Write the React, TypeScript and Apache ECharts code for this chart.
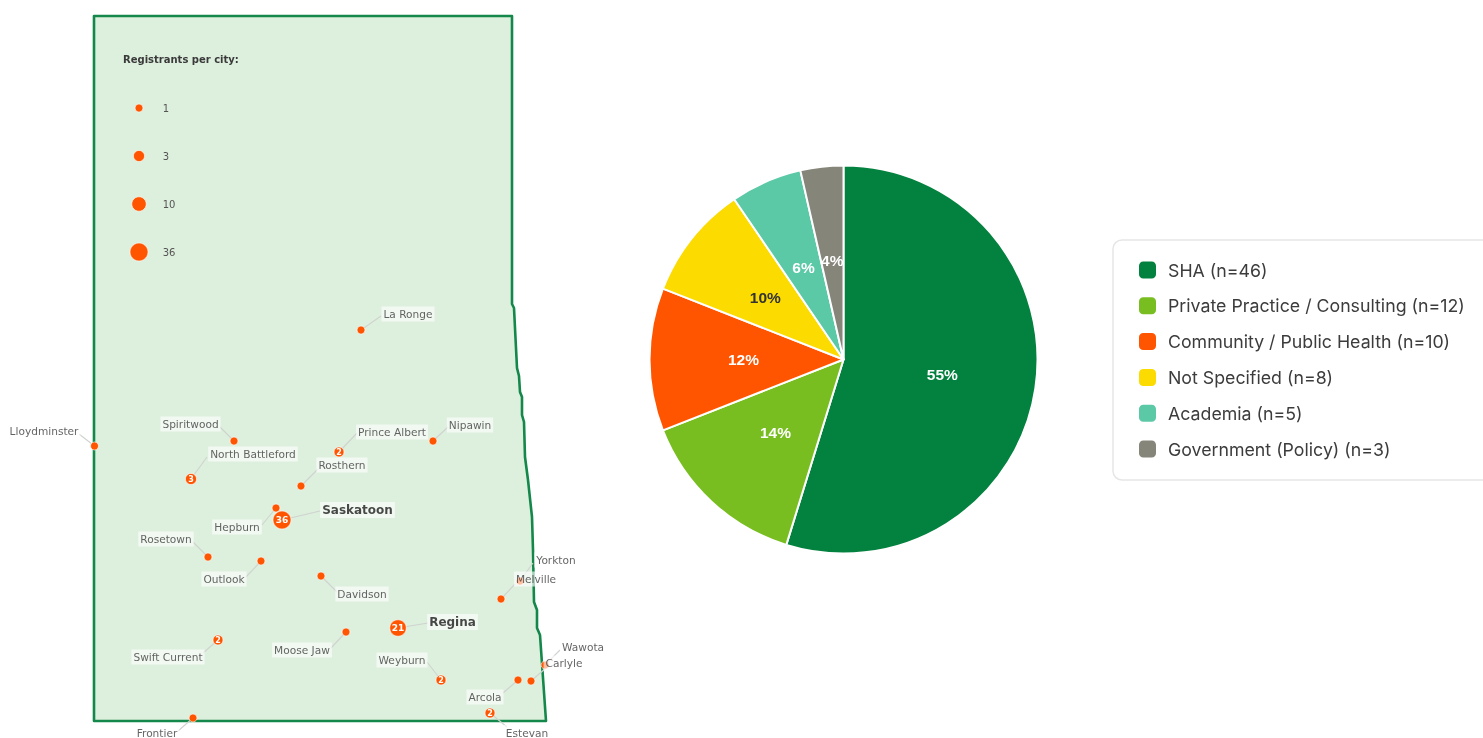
import React, { useEffect, useRef } from "react";
import * as echarts from "echarts";

const borderX = [94, 512, 512, 514, 517, 519, 520, 522, 522, 524, 525, 528, 532, 533, 534, 537, 537, 540, 546, 94];
const borderY = [16, 16, 304, 308, 368, 376, 392, 397, 415, 422, 457, 480, 517, 550, 602, 610, 628, 635, 721, 721];

const cityNames = ["Lloydminster", "Spiritwood", "North Battleford", "Rosthern", "Prince Albert", "Nipawin", "La Ronge", "Hepburn", "Saskatoon", "Rosetown", "Outlook", "Davidson", "Yorkton", "Melville", "Regina", "Moose Jaw", "Swift Current", "Weyburn", "Arcola", "Carlyle", "Wawota", "Estevan", "Frontier"];
const cityX = [94.5, 234, 191, 301, 339, 433, 361, 276, 282, 208, 261, 321, 520, 501, 398, 346, 218, 441, 518, 531, 545, 490, 193];
const cityY = [446, 441, 479, 486, 452, 441, 330, 508, 520, 557, 561, 576, 581, 599, 628, 632, 640, 680, 680, 681, 665, 713, 718];
const cityCounts = [1, 1, 3, 1, 2, 1, 1, 1, 36, 1, 1, 1, 1, 1, 21, 1, 2, 2, 1, 1, 1, 2, 1];
const labelX = [44, 190.5, 253, 342, 392, 470, 408, 237, 357.5, 166, 224, 362, 556, 536, 452.5, 302, 168, 402, 485, 564, 583, 527, 157];
const labelY = [431, 424, 454, 465, 432, 425, 314, 527, 510, 539, 579, 594, 560, 579, 622, 650, 657, 660, 697, 663, 647, 732.5, 732.5];
const leaderX = [79, 220, 207, 318, 357, 448, 381, 262, 320, 193, 246, 337, 533, 515, 428, 331, 203, 427, 503, 546, 560, 507, 178];
const leaderY = [434, 427, 457, 469, 433, 427, 316, 525, 511, 542, 577, 592, 563, 584, 623, 648, 653, 662, 693, 668, 650, 727, 731];

const sizeLegendCounts = [1, 3, 10, 36];
const sizeLegendY = [108, 156, 204, 252];
const sizeLegendX = 139;

const sectors = ["SHA (n=46)", "Private Practice / Consulting (n=12)", "Community / Public Health (n=10)", "Not Specified (n=8)", "Academia (n=5)", "Government (Policy) (n=3)"];
const sectorValues = [46, 12, 10, 8, 5, 3];
const sectorColors = ["#03813E", "#78BE20", "#FF5500", "#FBDB00", "#5BC8A6", "#86857A"];

const dotSize = (c: number) => 8 + 2.8 * Math.log(c);
const MAP_FONT = "DejaVu Sans";
const ORANGE = "#FF5500";
const sectorTotal = sectorValues.reduce((a, b) => a + b, 0);

export default function App() {
  const ref = useRef<HTMLDivElement>(null);
  useEffect(() => {
    const chart = echarts.init(ref.current!, undefined, { renderer: "svg" });
    const indexes = cityNames.map((_, i) => i);
    const option: any = {
      animation: false,
      backgroundColor: "#ffffff",
      title: {
        text: "Registrants per city:",
        left: 123,
        top: 54,
        padding: 0,
        textStyle: { fontFamily: MAP_FONT, fontSize: 10, fontWeight: "bold", color: "#3a3a3a" },
      },
      grid: { left: 0, right: 0, top: 0, bottom: 0 },
      xAxis: { type: "value", min: 0, max: 1483, show: false },
      yAxis: { type: "value", min: 0, max: 738, inverse: true, show: false },
      legend: {
        orient: "vertical",
        left: 1113,
        top: 240,
        padding: [21, 30, 22, 26],
        icon: "roundRect",
        itemWidth: 17,
        itemHeight: 17,
        itemGap: 17.8,
        backgroundColor: "#ffffff",
        borderColor: "#e6e6e6",
        borderWidth: 1.5,
        borderRadius: 9,
        itemStyle: { borderWidth: 0 },
        data: sectors,
        textStyle: { fontFamily: "Inter", fontSize: 17.75, color: "#3c3c3c", padding: [0, 0, 0, 7] },
      },
      series: [
        {
          type: "custom",
          coordinateSystem: "cartesian2d",
          z: 1,
          silent: true,
          clip: false,
          data: [[0, 0]],
          renderItem: (_: any, api: any) => ({
            type: "polygon",
            shape: { points: borderX.map((x, i) => api.coord([x, borderY[i]])) },
            style: { fill: "#DDEFDD", stroke: "#14874A", lineWidth: 2.6, lineJoin: "round" },
          }),
        },
        {
          type: "custom",
          coordinateSystem: "cartesian2d",
          z: 2,
          silent: true,
          clip: false,
          data: indexes.map((i) => [cityX[i], cityY[i], leaderX[i], leaderY[i]]),
          renderItem: (_: any, api: any) => {
            const a = api.coord([api.value(0), api.value(1)]);
            const b = api.coord([api.value(2), api.value(3)]);
            return {
              type: "line",
              shape: { x1: a[0], y1: a[1], x2: b[0], y2: b[1] },
              style: { stroke: "#cfd3cf", lineWidth: 1.1 },
            };
          },
        },
        {
          type: "scatter",
          z: 3,
          silent: true,
          clip: false,
          symbol: "circle",
          symbolSize: (v: number[]) => dotSize(v[2]),
          itemStyle: { color: ORANGE, borderColor: "#ffffff", borderWidth: 0.6, opacity: 1 },
          data: indexes.map((i) => ({
            value: [cityX[i], cityY[i], cityCounts[i]],
            label: {
              show: cityCounts[i] > 1,
              position: "inside",
              formatter: String(cityCounts[i]),
              color: "#ffffff",
              fontFamily: MAP_FONT,
              fontWeight: "bold",
              fontSize: cityCounts[i] > 10 ? 9 : 8,
            },
          })),
        },
        {
          type: "scatter",
          z: 4,
          silent: true,
          clip: false,
          symbolSize: 1,
          itemStyle: { color: "rgba(0,0,0,0)" },
          data: indexes.map((i) => {
            const major = cityCounts[i] > 10;
            return {
              value: [labelX[i], labelY[i]],
              label: {
                show: true,
                position: "inside",
                formatter: cityNames[i],
                fontFamily: MAP_FONT,
                fontSize: major ? 12 : 10.6,
                fontWeight: major ? "bold" : "normal",
                color: major ? "#1a1a1a" : "#3c3c3c",
                backgroundColor: "rgba(255,255,255,0.78)",
                padding: [2, 2, 2, 2],
              },
            };
          }),
        },
        {
          type: "scatter",
          z: 3,
          silent: true,
          symbol: "circle",
          symbolSize: (v: number[]) => dotSize(v[2]),
          itemStyle: { color: ORANGE, borderColor: "#ffffff", borderWidth: 0.6, opacity: 1 },
          data: sizeLegendCounts.map((c, i) => ({
            value: [sizeLegendX, sizeLegendY[i], c],
            label: {
              show: true,
              position: [24 + dotSize(c) / 2, dotSize(c) / 2 - 4],
              formatter: String(c),
              color: "#555555",
              fontFamily: MAP_FONT,
              fontSize: 10,
            },
          })),
        },
        {
          type: "pie",
          center: [843.5, 359.5],
          radius: [0, 194],
          startAngle: 90,
          clockwise: true,
          avoidLabelOverlap: false,
          itemStyle: { borderColor: "#ffffff", borderWidth: 2 },
          labelLine: { show: false },
          label: {
            show: true,
            position: "inside",
            formatter: (p: any) => `${Math.round((p.value / sectorTotal) * 100)}%`,
            color: "#ffffff",
            fontFamily: "Liberation Sans",
            fontSize: 15.5,
            fontWeight: "bold",
          },
          data: sectors.map((name, i) => ({
            name,
            value: sectorValues[i],
            itemStyle: { color: sectorColors[i] },
            label: i === 3 ? { color: "#333333" } : undefined,
          })),
        },
      ],
    };
    chart.setOption(option);
    return () => chart.dispose();
  }, []);
  return <div ref={ref} style={{ position: "absolute", left: 0, top: 0, width: 1483, height: 738, overflow: "hidden", filter: "blur(0.45px)" }} />;
}
